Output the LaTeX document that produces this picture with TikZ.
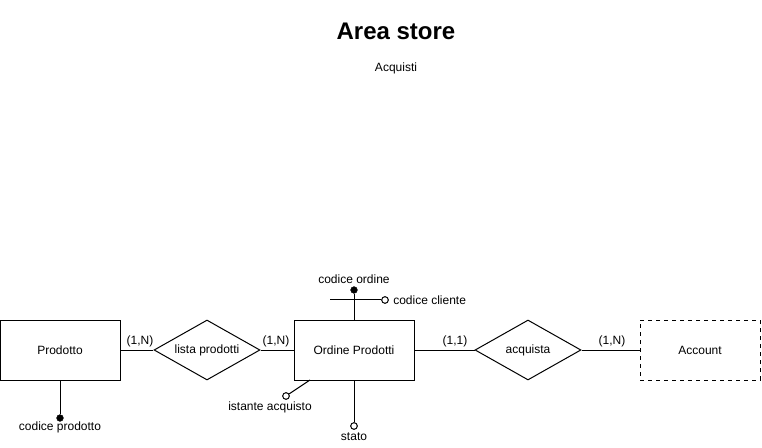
\documentclass[tikz,border=0pt]{standalone}
\usepackage{fontspec}
\setmainfont{Liberation Sans}
\usetikzlibrary{shapes.geometric}
\begin{document}
\begin{tikzpicture}[x=0.75pt,y=-0.75pt,
  every node/.style={font=\fontsize{9}{11}\selectfont, inner sep=0pt},
  entity/.style={draw, line width=0.75pt, minimum width=90pt, minimum height=45pt},
  rel/.style={draw, diamond, aspect=1.77, line width=0.75pt, minimum width=79.5pt, minimum height=45pt, inner sep=0pt},
  conn/.style={line width=0.75pt},
  keydot/.style={circle, fill=black, draw=black, minimum size=5pt},
  attdot/.style={circle, fill=white, draw=black, line width=0.75pt, minimum size=5pt}]
\useasboundingbox (0,0) rectangle (762,448);
\node[font=\bfseries\fontsize{18}{22}\selectfont] (title) at (396,31) {Area store};
\node (sub) at (396,68) {Acquisti};
% entities
\node[entity] (prod) at (60,350) {Prodotto};
\node[rel] (lista) at (207,350) {lista prodotti};
\node[entity] (ord) at (354,350) {Ordine Prodotti};
\node[rel] (acq) at (528,350) {acquista};
\node[entity, dashed] (acc) at (700,350) {Account};
% connectors
\draw[conn] (prod) -- (lista);
\draw[conn] (lista) -- (ord);
\draw[conn] (ord) -- (acq);
\draw[conn] (acq) -- (acc);
% cardinalities
\node (c1) at (140,341) {(1,N)};
\node (c2) at (276,341) {(1,N)};
\node (c3) at (455,341) {(1,1)};
\node (c4) at (612,341) {(1,N)};
% Prodotto attribute
\node[keydot] (kp) at (60,418) {};
\draw[conn] (prod.south) -- (kp);
\node (kpl) at (60,427) {codice prodotto};
% Ordine attributes
\node[keydot] (ko) at (354,290) {};
\draw[conn] (ord.north) -- (ko);
\node (kol) at (354,279) {codice ordine};
\coordinate (cl0) at (330,300);
\node[attdot] (cc) at (385,300) {};
\draw[conn] (cl0) -- (cc);
\node[anchor=west] (ccl) at (393,300) {codice cliente};
\coordinate (st0) at (354,380);
\node[attdot] (st) at (354,426) {};
\draw[conn] (st0) -- (st);
\node (stl) at (354,437) {stato};
\coordinate (ia0) at (310,380);
\node[attdot] (ia) at (286,396) {};
\draw[conn] (ia0) -- (ia);
\node (ial) at (270,407) {istante acquisto};
\end{tikzpicture}
\end{document}
